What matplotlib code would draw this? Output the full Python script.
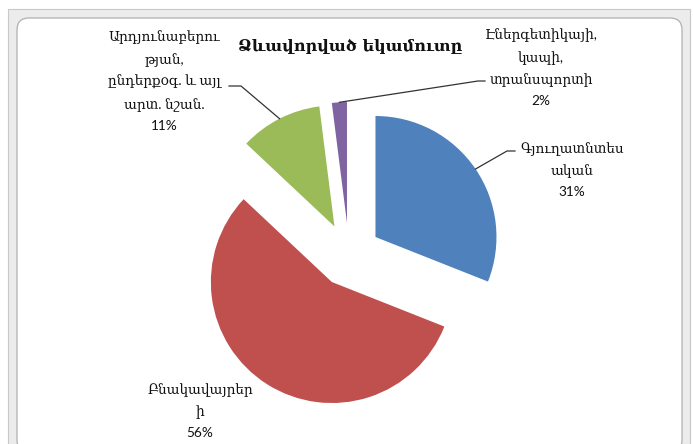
import numpy as np
import matplotlib
matplotlib.use("Agg")
import matplotlib.pyplot as plt
from matplotlib.patches import FancyBboxPatch, Rectangle

# ---- data ----
title = "Ձևավորված եկամուտը"
categories = [
    "Գյուղատնտես\nական",
    "Բնակավայրեր\nի",
    "Արդյունաբերու\nթյան,\nընդերքօգ. և այլ\nարտ. նշան.",
    "Էներգետիկայի,\nկապի,\nտրանսպորտի",
]
shares = [31, 56, 11, 2]
colors = ["#4F81BD", "#C0504D", "#9BBB59", "#8064A2"]

W, H = 693, 444
fig = plt.figure(figsize=(W / 100, H / 100), dpi=100)
ax = fig.add_axes([0, 0, 1, 1])


def Y(y):
    return H - y


# window chrome / chart frame
ax.add_patch(Rectangle((8, Y(444)), 682, 444 - 9, facecolor="#ececec",
                       edgecolor="#c8c8c8", lw=0.8, zorder=0))
ax.add_patch(FancyBboxPatch((17, Y(452)), 665, 452 - 18,
                            boxstyle="round,pad=0,rounding_size=12",
                            facecolor="white", edgecolor="#b0b0b0", lw=0.9, zorder=1))

R = 121
wedges, _ = ax.pie(shares, colors=colors, startangle=90, counterclock=False,
                   explode=[32] * len(shares), radius=R, center=(349, Y(255)),
                   wedgeprops=dict(linewidth=0, zorder=2), frame=False)
ax.set_xlim(0, W)
ax.set_ylim(0, H)
ax.set_aspect("equal")
ax.axis("off")

ax.text(350, Y(46), title, ha="center", va="center", fontsize=11.5,
        fontweight="bold", family=["DejaVu Serif"], color="#111111", zorder=5)


def arc_mid(w):
    t = np.deg2rad((w.theta1 + w.theta2) / 2)
    cx, cy = w.center
    return cx + w.r * np.cos(t), cy + w.r * np.sin(t)


fam = ["Lato", "DejaVu Serif"]
label_pos = [(572, 170), (200, 411), (164, 81), (541, 68)]
for i, (w, cat, val) in enumerate(zip(wedges, categories, shares)):
    lx, ly = label_pos[i]
    ax.text(lx, Y(ly), f"{cat}\n{val}%", ha="center", va="center",
            fontsize=9.8, family=fam, color="#111111", linespacing=1.8, zorder=5)

lc = dict(color="#333333", lw=0.9, zorder=4)
# blue leader
mx, my = arc_mid(wedges[0])
ax.plot([mx, 507, 515], [my, Y(151), Y(151)], **lc)
# green leader
mx, my = arc_mid(wedges[2])
ax.plot([mx, 241, 229], [my, Y(86), Y(86)], **lc)
# purple leader
mx, my = arc_mid(wedges[3])
ax.plot([mx, 478, 485], [my, Y(81), Y(81)], **lc)

fig.savefig("out.png", dpi=100)
